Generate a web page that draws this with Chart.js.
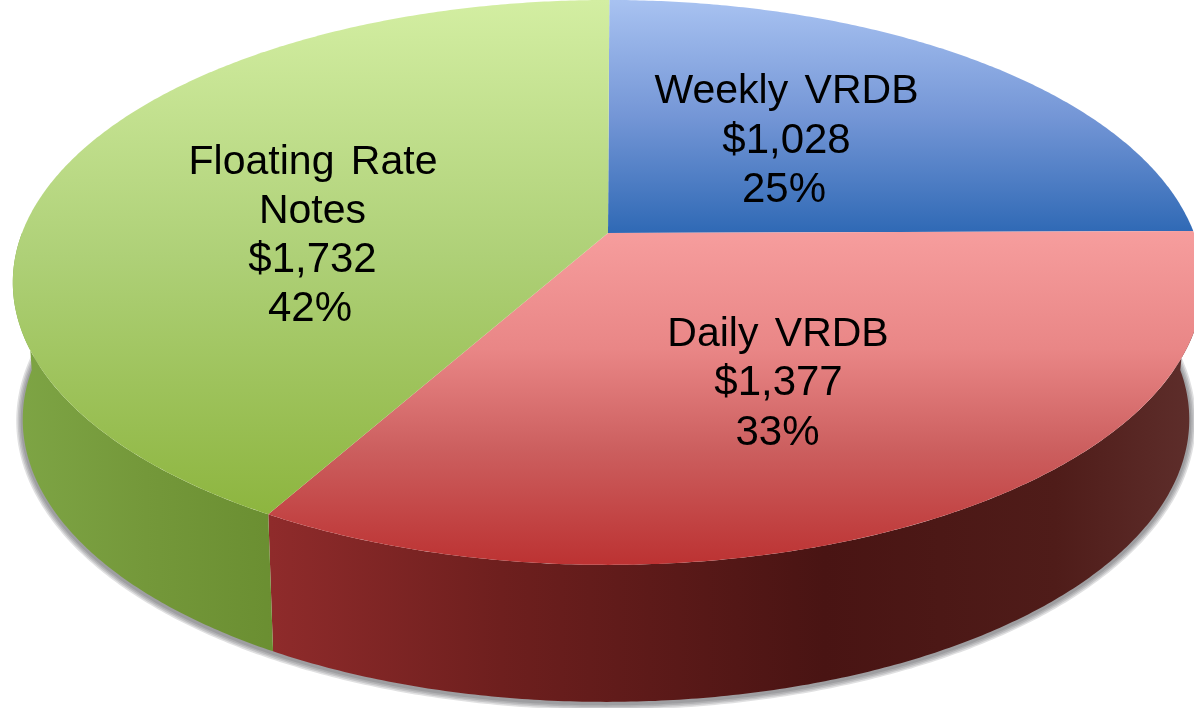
<!DOCTYPE html>
<html>
<head>
<meta charset="utf-8">
<style>
html,body{margin:0;padding:0;background:#fff;overflow:hidden}
canvas{display:block}
</style>
<script src="https://cdn.jsdelivr.net/npm/chart.js@4/dist/chart.umd.js"></script>
</head>
<body>
<canvas id="c" width="1194" height="708"></canvas>
<script>
const categories = ["Weekly VRDB", "Daily VRDB", "Floating Rate\nNotes"];
const values = [1028, 1377, 1732];
const percents = ["25%", "33%", "42%"];
const amounts = ["$1,028", "$1,377", "$1,732"];

// perspective view of the pie disc
const view = {hx: 608, hy: 233, r: 586, a: 273.8, c: -0.175, depth: 137, bottomScale: 0.98, bottomHx: 606};
const faceStyle = [
  {y0: 0, y1: 233, stops: [[0, "#a8c2f1"], [0.5, "#7496d6"], [1, "#2f69b5"]]},
  {y0: 233, y1: 565, stops: [[0, "#f69d9d"], [0.35, "#e98686"], [0.65, "#cc5f5f"], [1, "#bc3232"]]},
  {y0: 0, y1: 515, stops: [[0, "#d3eea2"], [0.5, "#aed077"], [1, "#8db53f"]]}
];
const sideStyle = [
  {x0: 608, x1: 1194, stops: [[0, "#234f8c"], [1, "#234f8c"]]},
  {x0: 270, x1: 1194, stops: [[0, "#8f2b2b"], [0.25, "#6e1f1e"], [0.6, "#491413"], [0.85, "#4f1c19"], [1, "#5e2e2b"]]},
  {x0: 12, x1: 280, stops: [[0, "#7ea545"], [0.5, "#74983a"], [1, "#6a8e31"]]}
];
const labelStyle = [
  {xs: [786.5, 786.5, 784], baselines: [103, 153, 202]},
  {xs: [778, 778.5, 777.5], baselines: [346, 395, 445]},
  {xs: [313, 312.5, 312.5, 310], baselines: [173.5, 222.5, 272, 320.5]}
];
const nameFont = '41px "Liberation Sans", Arial, sans-serif';
const valueFont = '42px "Liberation Sans", Arial, sans-serif';
const shadowWidths = [13, 10, 7, 4];

function pt(t, bottom) {
  const s = Math.sin(t), c = Math.cos(t), den = 1 + view.c * s;
  const k = bottom ? view.bottomScale : 1;
  const hx = bottom ? view.bottomHx : view.hx;
  return [hx + view.r * k * c / den, view.hy + view.a * s / den + (bottom ? view.depth : 0)];
}
function grad(ctx, x0, y0, x1, y1, stops) {
  const g = ctx.createLinearGradient(x0, y0, x1, y1);
  stops.forEach(p => g.addColorStop(p[0], p[1]));
  return g;
}
function sweep(a, b) {
  const n = Math.max(2, Math.ceil((b - a) / (Math.PI / 360)));
  const out = [];
  for (let i = 0; i <= n; i++) out.push(a + (b - a) * i / n);
  return out;
}
function frontRange(a, b) {
  // the wall is only seen for the near half of the disc
  const lo = Math.max(a, 0), hi = Math.min(b, Math.PI);
  return lo < hi ? [lo, hi] : null;
}

const pie3d = {
  id: "pie3d",
  beforeDatasetDraw(chart) {
    const ctx = chart.ctx, arcs = chart.getDatasetMeta(0).data;
    // soft ground shadow under the wall's lower edge
    ctx.save();
    ctx.translate(0, 1.5);
    ctx.strokeStyle = "rgba(60,60,70,0.16)";
    ctx.lineJoin = "round";
    shadowWidths.forEach(w => {
      ctx.lineWidth = w;
      ctx.beginPath();
      sweep(-0.05, Math.PI + 0.05).forEach((t, i) => {
        const p = pt(t, true);
        i ? ctx.lineTo(p[0], p[1]) : ctx.moveTo(p[0], p[1]);
      });
      ctx.stroke();
    });
    ctx.restore();

    arcs.forEach((arc, i) => {
      const r = frontRange(arc.startAngle, arc.endAngle);
      if (!r) return;
      const st = sideStyle[i];
      const ts = sweep(r[0], r[1]);
      ctx.beginPath();
      ts.forEach((t, j) => {
        const p = pt(t, false);
        j ? ctx.lineTo(p[0], p[1]) : ctx.moveTo(p[0], p[1]);
      });
      ts.slice().reverse().forEach(t => { const p = pt(t, true); ctx.lineTo(p[0], p[1]); });
      ctx.closePath();
      ctx.fillStyle = grad(ctx, st.x0, 0, st.x1, 0, st.stops);
      ctx.fill();
    });

    arcs.forEach((arc, i) => {
      const st = faceStyle[i];
      ctx.beginPath();
      ctx.moveTo(view.hx, view.hy);
      sweep(arc.startAngle, arc.endAngle).forEach(t => { const p = pt(t, false); ctx.lineTo(p[0], p[1]); });
      ctx.closePath();
      ctx.fillStyle = grad(ctx, 0, st.y0, 0, st.y1, st.stops);
      ctx.fill();
    });
    return false;
  },
  afterDraw(chart) {
    const ctx = chart.ctx;
    ctx.save();
    ctx.fillStyle = "#000";
    ctx.textAlign = "center";
    ctx.textBaseline = "alphabetic";
    ctx.wordSpacing = "5px";
    categories.forEach((c, i) => {
      const names = c.split("\n");
      const lines = names.concat([amounts[i], percents[i]]);
      lines.forEach((l, j) => {
        ctx.font = j < names.length ? nameFont : valueFont;
        ctx.fillText(l, labelStyle[i].xs[j], labelStyle[i].baselines[j]);
      });
    });
    ctx.restore();
  }
};

new Chart(document.getElementById("c"), {
  type: "pie",
  data: {
    labels: categories,
    datasets: [{data: values, backgroundColor: ["#4f81bd", "#c0504d", "#9bbb59"], borderWidth: 0}]
  },
  options: {
    responsive: false,
    animation: false,
    events: [],
    rotation: 0.15,
    layout: {padding: 0},
    plugins: {legend: {display: false}, tooltip: {enabled: false}, title: {display: false}}
  },
  plugins: [pie3d]
});
</script>
</body>
</html>
